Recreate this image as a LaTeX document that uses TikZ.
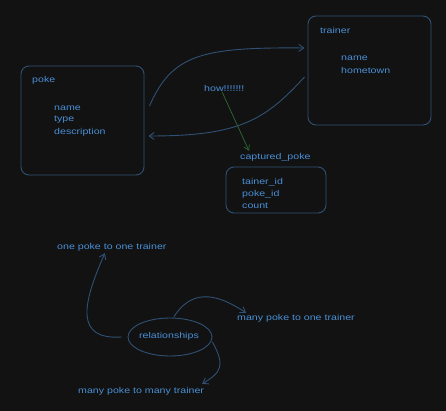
\documentclass[tikz,border=0pt]{standalone}
\usepackage{fontspec}
\setmainfont{Liberation Sans}[FakeStretch=1.25]
\usetikzlibrary{arrows.meta,shapes.geometric}
\definecolor{bg}{HTML}{121212}
\definecolor{txt}{HTML}{4A8FD6}
\definecolor{strk}{HTML}{2F5175}
\definecolor{grn}{HTML}{2E6B32}
\tikzset{
  lbl/.style={anchor=west,inner sep=0pt,text=txt,font=\fontsize{8.5}{10}\selectfont},
  box/.style={draw=strk,line width=0.9pt,rounded corners=8pt,inner sep=0pt},
  conn/.style={draw=strk,line width=0.9pt,-{Straight Barb[length=5pt,width=7pt]}},
  gconn/.style={draw=grn,line width=0.7pt,-{Straight Barb[length=5pt,width=6pt]}}
}
\begin{document}
\begin{tikzpicture}[x=1pt,y=-1pt]
\path[fill=bg,use as bounding box] (0,0) rectangle (446,411);
% boxes
\node[box,minimum width=123pt,minimum height=109pt] (poke) at (82.5,120.5) {};
\node[box,minimum width=123pt,minimum height=109pt] (trainer) at (369.5,70.5) {};
\node[box,minimum width=100pt,minimum height=46pt] (cap) at (276,190) {};
\node[draw=strk,line width=0.9pt,ellipse,minimum width=84pt,minimum height=38pt,inner sep=0pt] (rel) at (170,337) {};
% texts
\node[lbl] (tpoke) at (32,80) {poke};
\node[lbl] (pname) at (54,108) {name};
\node[lbl] (ptype) at (54,120) {type};
\node[lbl] (pdesc) at (54,132) {description};
\node[lbl] (ttrainer) at (320,30) {trainer};
\node[lbl] (tname) at (341,58) {name};
\node[lbl] (thome) at (341,70) {hometown};
\node[lbl] (how) at (204,88) {how!!!!!!!};
\node[lbl] (caplbl) at (240,157) {captured\_poke};
\node[lbl] (c1) at (242,182) {tainer\_id};
\node[lbl] (c2) at (242,194) {poke\_id};
\node[lbl] (c3) at (242,206) {count};
\node[lbl] (one) at (57,247) {one poke to one trainer};
\node[anchor=center,inner sep=0pt,text=txt,font=\fontsize{8.5}{10}\selectfont] (reltxt) at (169,336) {relationships};
\node[lbl] (mo) at (237,318) {many poke to one trainer};
\node[lbl] (mm) at (78,391) {many poke to many trainer};
% connectors
\draw[conn] ([xshift=5pt,yshift=14.5pt]poke.east) .. controls (172,55) and (200,47) .. ([xshift=-3pt,yshift=22.5pt]trainer.west);
\draw[conn] ([xshift=-3pt,yshift=-6.5pt]trainer.west) .. controls (265,120) and (240,136) .. ([xshift=4pt,yshift=-15.5pt]poke.east);
\draw[gconn] ([xshift=-2pt,yshift=-1pt]how.south) -- ([xshift=9pt,yshift=2pt]caplbl.north west);
\draw[conn] ([xshift=-6pt]rel.west) .. controls (75,340) and (82,305) .. ([xshift=-7pt,yshift=-2pt]one.south);
\draw[conn] ([xshift=4pt,yshift=1pt]rel.north) .. controls (190,292) and (212,290) .. ([xshift=9pt,yshift=1pt]mo.north west);
\draw[conn] ([yshift=-5pt]rel.east) .. controls (225,365) and (222,372) .. ([xshift=-2pt,yshift=3pt]mm.north east);
\end{tikzpicture}
\end{document}
